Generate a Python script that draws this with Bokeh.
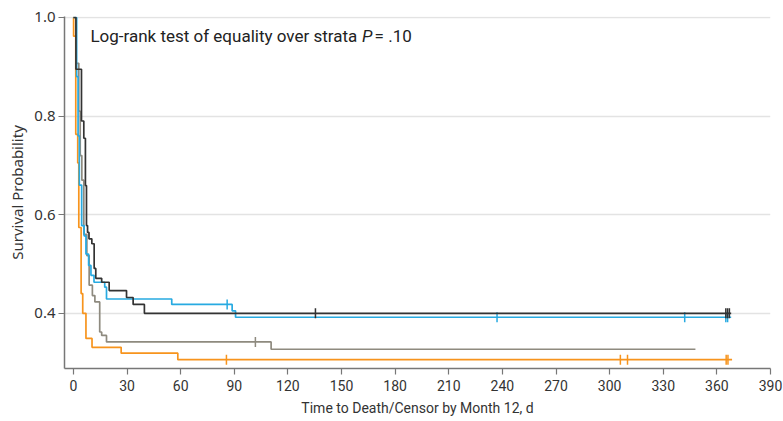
import numpy as np
from bokeh.plotting import figure
from bokeh.models import FixedTicker, PrintfTickFormatter, Label, Range1d
from bokeh.embed import file_html
from bokeh.resources import INLINE

# ---- data (time in days, survival probability) ----
black_t = [0, 1.4, 4.5, 5.8, 6.7, 7.3, 7.9, 8.7, 10.3, 11.6, 12.5, 15.8, 20, 29.7, 33.4, 39.7]
black_s = [1.0, 0.895, 0.79, 0.755, 0.659, 0.578, 0.564, 0.551, 0.541, 0.491, 0.471, 0.463, 0.446, 0.432, 0.418, 0.40]
black_end = 368
black_cens = [135.4, 365, 366, 367]

blue_t = [0, 1.8, 2.6, 3.3, 4.6, 6.0, 7.0, 8.5, 9.8, 11.5, 17.5, 18.5, 55, 88.8, 90.7]
blue_s = [1.0, 0.88, 0.76, 0.66, 0.578, 0.557, 0.52, 0.497, 0.477, 0.463, 0.453, 0.429, 0.418, 0.405, 0.392]
blue_end = 368
blue_cens = [86, 237, 342, 365, 366]

gray_t = [0, 1.5, 3.0, 3.8, 4.7, 5.8, 7.5, 8.8, 10.6, 12, 14.7, 15.8, 18.5, 110.6]
gray_s = [1.0, 0.907, 0.81, 0.72, 0.67, 0.56, 0.517, 0.457, 0.436, 0.423, 0.362, 0.355, 0.342, 0.327]
gray_end = 348
gray_cens = [101.8]

orange_t = [0, 0.1, 1.3, 2.4, 3.0, 4.3, 5.2, 7.0, 10.4, 26.7, 58.4]
orange_s = [1.0, 0.962, 0.763, 0.705, 0.574, 0.44, 0.40, 0.349, 0.331, 0.319, 0.306]
orange_end = 368.5
orange_cens = [85.6, 306, 310, 365.2, 366.2]

x_ticks = [0, 30, 60, 90, 120, 150, 180, 210, 240, 270, 300, 330, 360, 390]
y_ticks = [0.4, 0.6, 0.8, 1.0]

series = [
    (gray_t, gray_s, gray_end, gray_cens, "#8e8a7f"),
    (orange_t, orange_s, orange_end, orange_cens, "#f7941d"),
    (blue_t, blue_s, blue_end, blue_cens, "#27aae1"),
    (black_t, black_s, black_end, black_cens, "#333333"),
]

p = figure(width=783, height=421, output_backend="svg", toolbar_location=None,
           x_range=Range1d(-5, 390), y_range=Range1d(0.288, 1.002))
p.min_border_left = 64
p.min_border_right = 13
p.min_border_top = 16
p.min_border_bottom = 53
p.outline_line_color = None
p.background_fill_color = "white"

for t, s, end, cens, col in series:
    xs = list(t) + [end]
    ys = list(s) + [s[-1]]
    p.step(xs, ys, mode="after", line_color=col, line_width=1.7)
    tt = np.array(t)
    cy = [s[int(np.searchsorted(tt, c, side="right")) - 1] for c in cens]
    p.scatter(cens, cy, marker="dash", angle=np.pi / 2, size=10,
              line_color=col, line_width=1.5)

# axes
p.xaxis.ticker = FixedTicker(ticks=x_ticks)
p.yaxis.ticker = FixedTicker(ticks=y_ticks)
p.yaxis.formatter = PrintfTickFormatter(format="%.1f")
p.xgrid.grid_line_color = None
p.ygrid.grid_line_color = "#e3e3e3"
p.ygrid.grid_line_width = 1.5
for ax in (p.xaxis, p.yaxis):
    ax.axis_line_color = "#777777"
    ax.axis_line_width = 1.5
    ax.major_tick_line_color = "#777777"
    ax.major_tick_line_width = 1.2
    ax.major_tick_out = 6
    ax.major_tick_in = 0
    ax.minor_tick_line_color = None
    ax.major_label_text_color = "#333333"
    ax.axis_label_text_color = "#333333"
    ax.axis_label_text_font_style = "normal"

p.xaxis.axis_label = "Time to Death/Censor by Month 12, d"
p.xaxis.axis_label_text_font = "Roboto"
p.xaxis.axis_label_text_font_size = "14px"
p.xaxis.major_label_text_font = "Roboto"
p.xaxis.major_label_text_font_size = "14px"
p.xaxis.major_label_standoff = 5
p.xaxis.axis_label_standoff = 6

p.yaxis.axis_label = "Survival Probability"
p.yaxis.axis_label_text_font = "Noto Sans"
p.yaxis.axis_label_text_font_size = "15px"
p.yaxis.major_label_text_font = "Noto Sans"
p.yaxis.major_label_text_font_size = "15px"
p.yaxis.major_label_standoff = 3
p.yaxis.axis_label_standoff = 4

lab_kw = dict(y=0.9616, text_baseline="middle", text_font="Roboto",
              text_font_size="17px", text_color="#222222")
p.add_layout(Label(x=9.5, text="Log-rank test of equality over strata", **lab_kw))
p.add_layout(Label(x=161.5, text="P", text_font_style="italic", **lab_kw))
p.add_layout(Label(x=168.5, text="= .10", **lab_kw))

open("out.html", "w").write(file_html(p, INLINE))
